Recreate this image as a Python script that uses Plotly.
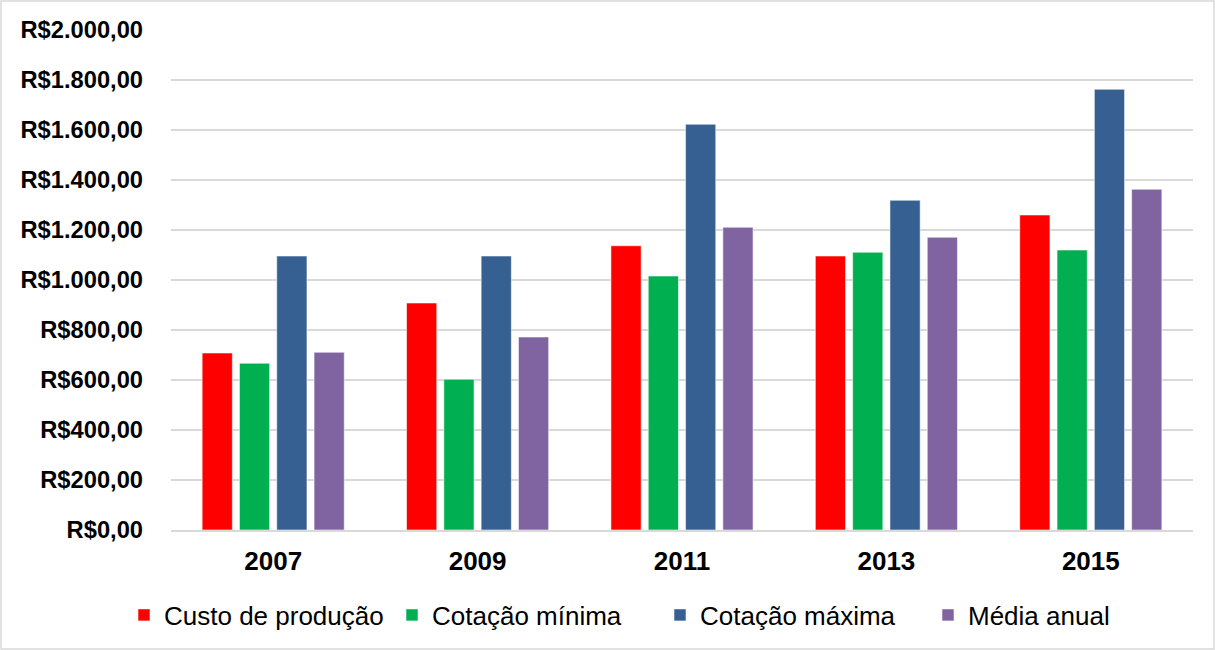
import plotly.graph_objects as go

years = ["2007", "2009", "2011", "2013", "2015"]
custo_producao = [708, 908, 1137, 1096, 1260]
cotacao_minima = [667, 603, 1016, 1111, 1120]
cotacao_maxima = [1096, 1096, 1623, 1319, 1763]
media_anual = [711, 772, 1211, 1171, 1363]

series_names = ["Custo de produção", "Cotação mínima", "Cotação máxima", "Média anual"]
series_values = [custo_producao, cotacao_minima, cotacao_maxima, media_anual]
series_colors = ["#FF0000", "#00B050", "#376092", "#8064A2"]

y_tick_vals = [0, 200, 400, 600, 800, 1000, 1200, 1400, 1600, 1800, 2000]
y_tick_text = ["R$0,00", "R$200,00", "R$400,00", "R$600,00", "R$800,00", "R$1.000,00",
               "R$1.200,00", "R$1.400,00", "R$1.600,00", "R$1.800,00", "R$2.000,00"]

FONT = "Liberation Sans, Arial, sans-serif"

fig = go.Figure()
for name, vals, color in zip(series_names, series_values, series_colors):
    fig.add_trace(go.Bar(
        x=years, y=vals, name=name,
        marker=dict(color=color, line=dict(color="rgba(255,255,255,0.55)", width=1)),
    ))

fig.update_layout(
    width=1215, height=650,
    margin=dict(l=171, r=22, t=30, b=120),
    paper_bgcolor="white", plot_bgcolor="white",
    barmode="group", bargap=0.27, bargroupgap=0.19,
    font=dict(family=FONT, color="#000000"),
    showlegend=True,
    legend=dict(
        orientation="h", x=(124 - 171) / 1022, xanchor="left", y=-0.17, yanchor="middle",
        font=dict(size=26, family=FONT, color="#000000"),
        itemwidth=30, traceorder="normal",
        entrywidth=223, entrywidthmode="pixels",
    ),
    xaxis=dict(
        showgrid=False, showline=True, linecolor="#D9D9D9", linewidth=1.5,
        ticks="", tickfont=dict(size=26, family=FONT, color="#000000", weight="bold"),
        ticklabelstandoff=7,
    ),
    yaxis=dict(
        range=[0, 2000], tickvals=y_tick_vals, ticktext=y_tick_text,
        showgrid=True, gridcolor="#D9D9D9", gridwidth=1.5, zeroline=False,
        showline=False, ticks="",
        tickfont=dict(size=23.7, family=FONT, color="#000000", weight="bold"),
        ticklabelstandoff=27,
    ),
)

fig.add_shape(
    type="rect", xref="paper", yref="paper",
    x0=(1 - 171) / 1022, x1=(1214 - 171) / 1022,
    y0=(530 - 649) / 500, y1=(530 - 1) / 500,
    line=dict(color="#D9D9D9", width=1.5), fillcolor="rgba(0,0,0,0)", layer="below",
)

fig.write_html("out.html", config={"displayModeBar": False},
               post_script="document.body.style.margin='0';")
